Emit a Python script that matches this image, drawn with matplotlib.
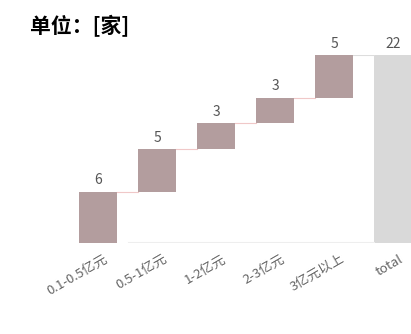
import numpy as np
import matplotlib.pyplot as plt

plt.rcParams['font.family'] = ['Noto Sans CJK SC', 'DejaVu Sans']

# data
categories = ['0.1-0.5亿元', '0.5-1亿元', '1-2亿元', '2-3亿元', '3亿元以上', 'total']
values = [6, 5, 3, 3, 5]
total = sum(values)

fig = plt.figure(figsize=(4.11, 3.34), dpi=100)
ax = fig.add_axes([0, 91 / 334, 1, 188 / 334])

x = np.arange(len(categories))
bottoms = np.concatenate([[0], np.cumsum(values)[:-1]])
w = 0.66

ax.bar(x[:-1], values, bottom=bottoms, width=w, color='#b39d9e')
ax.bar(x[-1], total, width=w, color='#d9d9d9')

# connectors
tops = bottoms + np.array(values)
for i in range(len(values) - 1):
    ax.plot([x[i] + w / 2, x[i + 1] - w / 2], [tops[i], tops[i]], color='#f0c8c8', lw=0.8)
ax.plot([x[-2] + w / 2, x[-1] - w / 2], [total, total], color='#dddddd', lw=0.8)
ax.plot([x[0] + w / 2 + 0.2, x[-1] - w / 2], [0, 0], color='#eeeeee', lw=1.5)

for i, v in enumerate(values):
    ax.text(x[i], tops[i] + 0.5, str(v), ha='center', va='bottom', fontsize=10, color='#555555')
ax.text(x[-1], total + 0.5, str(total), ha='center', va='bottom', fontsize=10, color='#555555')

ax.set_xlim(-98 / 59, 313 / 59)
ax.set_ylim(0, 22)
ax.axis('off')

for i, c in enumerate(categories):
    ax.text(x[i] + 0.1, -1.1, c, rotation=30, ha='right', va='top', rotation_mode='anchor',
            fontsize=9.5, color='#666666')

fig.text(0.073, 0.922, '单位：[家]', fontsize=15, fontweight='bold', color='black', va='center')

fig.savefig('out.png', dpi=100)
